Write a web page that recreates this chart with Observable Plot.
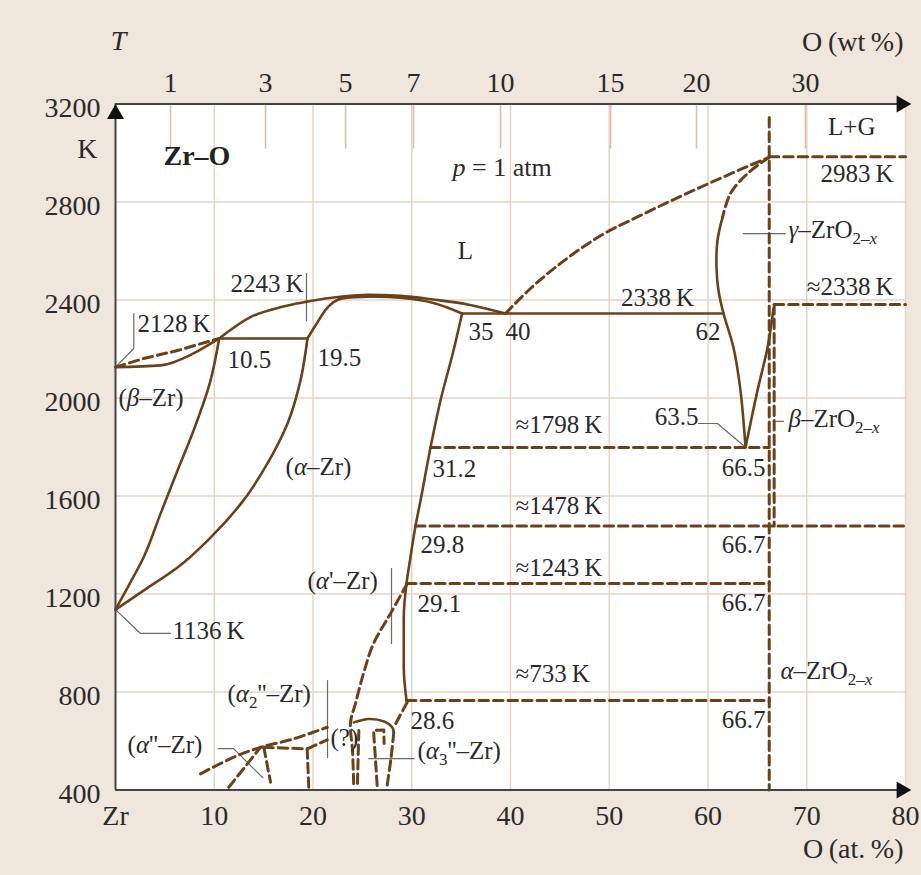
<!DOCTYPE html>
<html><head><meta charset="utf-8">
<script src="https://cdn.jsdelivr.net/npm/d3@7"></script>
<script src="https://cdn.jsdelivr.net/npm/@observablehq/plot@0.6"></script>
<style>
html,body{margin:0;padding:0;background:#efe7dc;}
#chart svg{display:block;}
</style></head><body><div id="chart"></div>
<script>
// ---------- axes / ticks ----------
const xTicks = [0, 10, 20, 30, 40, 50, 60, 70, 80];
const xTickLabels = ["Zr", "10", "20", "30", "40", "50", "60", "70", "80"];
const yTicks = [400, 800, 1200, 1600, 2000, 2400, 2800, 3200];
const xGrid = [10, 20, 30, 40, 50, 60, 70, 80];
const yGrid = [800, 1200, 1600, 2000, 2400, 2800];
const wtLabels = ["1", "3", "5", "7", "10", "15", "20", "30"];
const wtPos = [5.57, 15.19, 23.3, 30.18, 38.99, 50.13, 58.84, 69.87]; // at.% position of each wt.% tick

// ---------- phase boundaries [at.% O, T in K] ----------
const zrSolid = [[0,2126],[4.56,2133],[7.9,2182],[10.5,2243]];
const zrDashed = [[0,2126],[2.84,2161],[6.28,2194],[10.5,2243]];
const liquidusL = [[10.5,2243],[13.67,2330],[17.01,2373],[19.75,2396],[22.78,2413],[25.52,2421],[28.86,2417],[32.2,2402],[35.65,2382],[39.49,2345]];
const solidusA = [[19.44,2243],[20.25,2296],[21.47,2369],[22.58,2402],[25.52,2413],[28.86,2409],[32.2,2388],[35.1,2345]];
const betaLeft = [[10.5,2243],[9.62,2071],[7.9,1867],[6.28,1704],[4.56,1528],[2.84,1349],[1.22,1226],[0,1136]];
const alphaBound = [[19.44,2243],[18.73,2071],[17.42,1896],[15.39,1733],[12.96,1582],[9.62,1430],[6.28,1308],[2.84,1214],[0,1136]];
const alphaRight = [[35.1,2345],[34.23,2194],[32.91,1990],[31.9,1798],[30.89,1582],[30.38,1478],[29.87,1350],[29.47,1243],[29.19,1105],[29.19,901],[29.47,765]];
const liquidusR = [[39.49,2345],[42.03,2447],[45.57,2565],[49.11,2662],[53.16,2745],[57.22,2823],[61.27,2897],[66.2,2983]];
const gammaDashed = [[66.2,2983],[64.0,2916],[62.28,2835],[61.47,2737]];
const gammaSolid = [[61.47,2737],[60.96,2643],[60.86,2533],[61.06,2439],[61.57,2345],[62.58,2206],[63.29,2030],[63.8,1798]];
const betaZrO2Right = [[63.8,1798],[65.01,2030],[66.03,2206],[66.63,2365]];

const iso2338 = [[35.1,2345],[61.57,2345]];
const iso2243 = [[10.5,2243],[19.44,2243]];
const iso2983 = [[66.2,2985],[80,2985]];
const iso2338R = [[66.7,2382],[80,2382]];
const iso1798 = [[31.9,1798],[66.2,1798]];
const iso1478 = [[30.38,1478],[80,1478]];
const iso1243 = [[29.47,1243],[66.2,1243]];
const iso733 = [[29.47,765],[66.2,765]];
const vertZrO2 = [[66.2,3145],[66.2,400]];
const vertZrO2b = [[66.7,2382],[66.7,1478]];

// low temperature ordered phases
const alphaPrime = [[29.54,1243],[27.85,1120],[26.13,998],[25.11,875],[24.3,753],[23.8,676],[24.0,561],[24.13,410]];
const dome = [[24.13,676],[25.65,690],[27.17,680],[28.02,656],[28.18,636]];
const domeRight = [[28.18,636],[27.9,530],[27.51,420]];
const domeLeft = [[24.64,643],[24.5,420]];
const domeInner = [[26.5,418],[26.2,600],[26.13,643],[27.17,645],[27.2,590]];
const link286 = [[29.54,758],[28.35,669]];
const a2Upper = [[8.61,466],[11.98,534],[14.68,574],[18.06,609],[21.44,656]];
const a2Lower = [[15.02,574],[19.41,568],[21.44,605]];
const a2Left = [[11.47,411],[14.68,574]];
const a2v15 = [[15.02,574],[15.7,432]];
const a2v19 = [[19.41,568],[19.57,411]];

// leader lines
const leaders = [
  [[1.85,2345],[1.85,2202],[0.17,2133]],
  [[19.34,2508],[19.34,2316]],
  [[0,1136],[2.53,1039],[5.57,1039]],
  [[27.95,1304],[27.95,998]],
  [[21.47,847],[21.47,533]],
  [[25.65,528],[30.23,528]],
  [[10.43,569],[11.95,569],[14.89,451]],
  [[59.04,1896],[60.96,1896],[63.59,1806]],
  [[66.84,1905],[67.65,1905]],
  [[63.59,2671],[67.85,2671]]
];

// ---------- annotations ----------
const annoText = ["2128\u2009K","2243\u2009K","10.5","19.5","(*β*–Zr)","(*α*–Zr)","35","40","2338\u2009K","62",
  "2983\u2009K","L+G","*γ*–ZrO_{2–*x*}","≈2338\u2009K","≈1798\u2009K","31.2","63.5","66.5","*β*–ZrO_{2–*x*}",
  "≈1478\u2009K","29.8","66.7","≈1243\u2009K","29.1","66.7","(*α*'–Zr)","1136\u2009K","≈733\u2009K","*α*–ZrO_{2–*x*}",
  "(*α*_{2}''–Zr)","28.6","66.7","(*α*''–Zr)","(?)","(*α*_{3}''–Zr)","L"];
const annoX = [2.23,11.65,11.34,20.46,0.3,17.22,35.75,39.49,58.6,61.27,
  78.8,76.96,68.15,78.8,40.51,32.1,59.04,65.82,68.15,
  40.51,30.89,65.82,40.51,30.58,65.82,19.44,5.77,40.51,67.34,
  11.34,29.87,65.82,1.22,21.77,30.58,35.44];
const annoT = [2304,2467,2157,2163,2000,1717,2268,2268,2408,2271,
  2916,3108,2684,2455,1888,1712,1924,1716,1916,
  1561,1398,1402,1308,1161,1165,1255,1047,875,885,
  793,680,687,585,612,561,2602];
const annoAnchor = ["start","start","start","start","start","start","start","start","end","end",
  "end","end","start","end","start","start","end","end","start",
  "start","start","end","start","start","end","start","start","start","start",
  "start","start","end","start","start","start","middle"];

const annotations = annoText.map((t, i) => ({text: t, x: annoX[i], y: annoT[i], anchor: annoAnchor[i]}));

const brown = "#6b4119";
const ink = "#2a2a2a";
const X = d => d[0], Y = d => d[1];
const solid = (data, curve = "catmull-rom") => Plot.line(data, {x: X, y: Y, stroke: brown, strokeWidth: 2.6, curve, strokeLinejoin: "round", strokeLinecap: "round"});
const dashed = (data, curve = "catmull-rom") => Plot.line(data, {x: X, y: Y, stroke: brown, strokeWidth: 3, strokeDasharray: "9.5,5", curve});
const font = "Liberation Serif, Times New Roman, serif";
const annoMark = anchor => Plot.text(annotations.filter(d => d.anchor === anchor), {x: "x", y: "y", text: "text", textAnchor: anchor, fontSize: 25, fill: ink});

const chart = Plot.plot({
  width: 921, height: 875,
  marginLeft: 115, marginRight: 16, marginTop: 103.5, marginBottom: 85.5,
  x: {domain: [0, 80], axis: null},
  y: {domain: [400, 3200], axis: null},
  style: {background: "#efe7dc", fontFamily: font},
  marks: [
    Plot.rect([0], {x1: 0, x2: 80, y1: 400, y2: 3200, fill: "white"}),
    Plot.ruleX(xGrid, {y1: 400, y2: 3200, stroke: "#e6d5c2", strokeWidth: 1.5}),
    Plot.ruleY(yGrid, {x1: 0, x2: 80, stroke: "#e6d5c2", strokeWidth: 1.5}),
    Plot.ruleX(wtPos, {y1: 3200, y2: 3016, stroke: "#d9c3a9", strokeWidth: 1.6}),
    // leaders
    ...leaders.map(l => Plot.line(l, {x: X, y: Y, stroke: "#6a6a6a", strokeWidth: 1.2})),
    // phase boundaries
    solid(zrSolid, "monotone-x"), dashed(zrDashed, "linear"),
    solid(liquidusL, "monotone-x"), solid(solidusA), solid(betaLeft, "monotone-y"), solid(alphaBound, "monotone-y"), solid(alphaRight, "monotone-y"),
    dashed(liquidusR, "monotone-x"), dashed(gammaDashed), solid(gammaSolid), solid(betaZrO2Right),
    solid(iso2338, "linear"), solid(iso2243, "linear"),
    dashed(iso2983, "linear"), dashed(iso2338R, "linear"), dashed(iso1798, "linear"),
    dashed(iso1478, "linear"), dashed(iso1243, "linear"), dashed(iso733, "linear"),
    dashed(vertZrO2, "linear"), dashed(vertZrO2b, "linear"),
    dashed(alphaPrime), solid(dome), dashed(domeRight), dashed(domeLeft, "linear"),
    dashed(domeInner, "linear"), dashed(link286, "linear"),
    dashed(a2Upper), dashed(a2Lower, "linear"), dashed(a2Left, "linear"), dashed(a2v15, "linear"), dashed(a2v19, "linear"),
    // axes
    Plot.ruleX([0], {y1: 400, y2: 3200, stroke: "#444", strokeWidth: 2}),
    Plot.ruleY([400, 3200], {x1: 0, x2: 79.5, stroke: "#444", strokeWidth: 2}),
    Plot.dot([[0, 3200]], {x: X, y: Y, symbol: "triangle", r: 6.3, fill: "#111", stroke: "none", dy: 10}),
    Plot.dot([[80, 3200], [80, 400]], {x: X, y: Y, symbol: "triangle", r: 6.3, fill: "#111", stroke: "none", rotate: 90, dx: -4}),
    // tick labels
    Plot.text(yTicks, {x: 0, y: d => d, text: d => String(d), textAnchor: "end", dx: -15, dy: 4, fontSize: 28, fill: ink}),
    Plot.text(xTicks, {x: d => d, y: 400, text: (d, i) => xTickLabels[i], dy: 26, fontSize: 28, fill: ink}),
    Plot.text(wtPos, {x: d => d, y: 3200, text: (d, i) => wtLabels[i], dy: -21, fontSize: 28, fill: ink}),
    Plot.text(["K"], {x: 0, y: 3018, text: d => d, textAnchor: "end", dx: -18, fontSize: 28, fill: ink}),
    Plot.text(["T"], {x: 0.3, y: 3459, text: d => d, fontSize: 28, fontStyle: "italic", fill: ink}),
    Plot.text(["O\u2009(wt\u2009%)"], {x: 79.8, y: 3451, text: d => d, textAnchor: "end", fontSize: 28, fill: ink}),
    Plot.text(["O\u2009(at.\u2009%)"], {x: 79.8, y: 161, text: d => d, textAnchor: "end", fontSize: 28, fill: ink}),
    Plot.text(["Zr–O"], {x: 4.86, y: 2986, text: d => d, textAnchor: "start", fontSize: 28, fontWeight: "bold", fill: "#222"}),
    Plot.text(["*p* = 1 atm"], {x: 34.13, y: 2941, text: d => d, textAnchor: "start", fontSize: 26, fill: ink}),
    annoMark("start"), annoMark("end"), annoMark("middle")
  ]
});

// rich text: *italic* and _{subscript}
chart.querySelectorAll("text").forEach(t => {
  const s = t.textContent;
  if (!/[*]|_\{/.test(s)) return;
  const runs = []; let it = false, sub = false, buf = "";
  const flush = () => { if (buf) { runs.push({s: buf, it, sub}); buf = ""; } };
  for (let i = 0; i < s.length; i++) {
    const c = s[i];
    if (c === "*") { flush(); it = !it; continue; }
    if (c === "_" && s[i + 1] === "{") { flush(); sub = true; i++; continue; }
    if (c === "}" && sub) { flush(); sub = false; continue; }
    buf += c;
  }
  flush();
  t.textContent = "";
  let prevSub = false;
  for (const r of runs) {
    const ts = document.createElementNS("http://www.w3.org/2000/svg", "tspan");
    if (r.it) ts.setAttribute("font-style", "italic");
    if (r.sub) ts.setAttribute("font-size", "0.68em");
    if (r.sub !== prevSub) ts.setAttribute("dy", r.sub ? "6" : "-6");
    prevSub = r.sub;
    ts.textContent = r.s;
    t.appendChild(ts);
  }
});
document.getElementById("chart").appendChild(chart);
</script></body></html>
